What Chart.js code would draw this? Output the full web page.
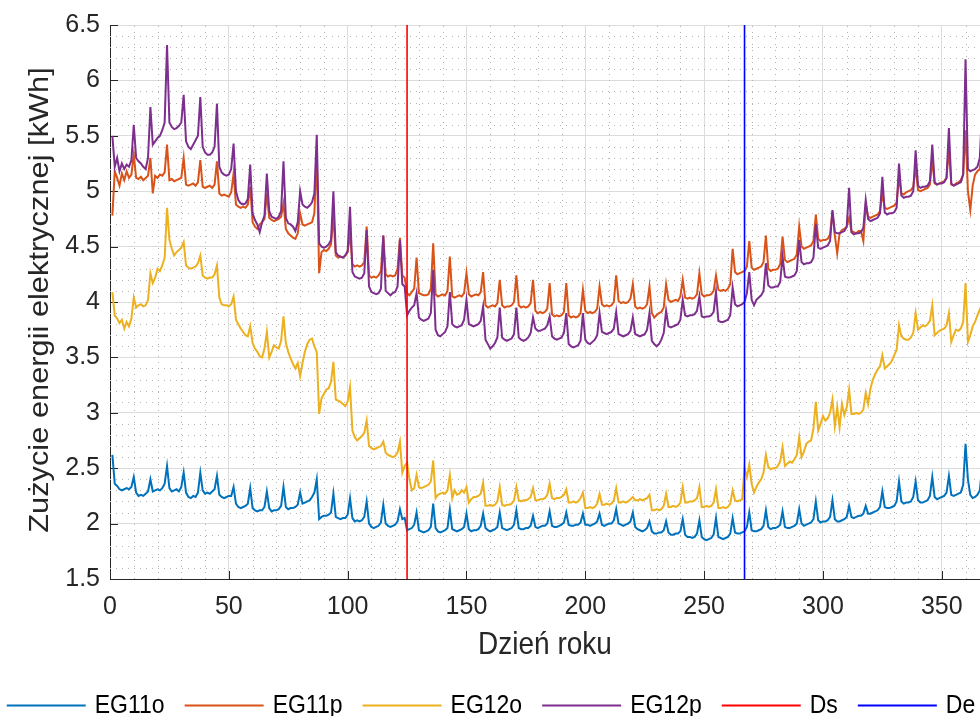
<!DOCTYPE html>
<html><head><meta charset="utf-8">
<script src="https://cdn.jsdelivr.net/npm/chart.js@4.4.1/dist/chart.umd.min.js"></script>
<style>
html,body{margin:0;padding:0;background:#fff;overflow:hidden;width:980px;height:716px}
#wrap{position:absolute;left:0;top:0;width:1000px;height:716px}
</style>
</head><body><div id="wrap"><canvas id="c" width="1000" height="716"></canvas></div>
<script>
const xTickValues = [0, 50, 100, 150, 200, 250, 300, 350];
const yTickValues = [1.5, 2, 2.5, 3, 3.5, 4, 4.5, 5, 5.5, 6, 6.5];
const seriesNames = ['EG11o', 'EG11p', 'EG12o', 'EG12p'];
const markerNames = ['Ds', 'De'];
const dsDay = 125;
const deDay = 267;
const xTitle = 'Dzień roku';
const yTitle = 'Zużycie energii elektrycznej [kWh]';

const eg11o = [2.62,2.36,2.34,
2.31,2.30,2.31,2.32,2.31,2.33,2.42,
2.28,2.25,2.26,2.25,2.27,2.29,2.40,
2.29,2.30,2.31,2.30,2.32,2.36,2.52,
2.32,2.29,2.30,2.31,2.29,2.33,2.46,
2.28,2.24,2.23,2.25,2.24,2.28,2.46,
2.30,2.27,2.28,2.27,2.29,2.31,2.43,
2.26,2.24,2.23,2.24,2.25,2.25,2.33,
2.18,2.15,2.14,2.15,2.16,2.18,2.32,
2.14,2.12,2.11,2.12,2.12,2.15,2.29,
2.14,2.11,2.12,2.12,2.13,2.16,2.33,
2.15,2.13,2.14,2.14,2.15,2.17,2.28,
2.18,2.19,2.20,2.21,2.24,2.28,2.40,
2.04,2.06,2.07,2.07,2.08,2.10,2.27,
2.06,2.05,2.04,2.05,2.05,2.08,2.23,
2.05,2.02,2.03,2.02,2.03,2.06,2.20,
2.00,1.97,1.96,1.97,1.98,2.01,2.17,
2.00,1.98,1.97,1.98,1.99,2.02,2.13,
2.04,2.05,1.94,1.95,1.96,1.99,2.10,
1.94,1.93,1.92,1.93,1.94,1.97,2.18,
1.96,1.93,1.92,1.93,1.94,1.96,2.13,
1.95,1.94,1.93,1.94,1.95,1.97,2.09,
1.95,1.93,1.94,1.94,1.95,1.98,2.09,
1.96,1.94,1.93,1.94,1.95,1.97,2.10,
1.96,1.95,1.94,1.95,1.96,1.99,2.12,
1.96,1.95,1.95,1.96,1.96,1.98,2.07,
1.97,1.96,1.97,1.98,1.98,2.00,2.11,
1.98,1.97,1.97,1.98,1.99,2.01,2.10,
1.99,1.98,1.98,1.99,1.99,2.01,2.09,
1.99,1.99,1.98,1.99,2.00,2.02,2.09,
1.99,1.98,1.99,2.00,2.00,2.03,2.13,
2.00,1.99,1.98,1.99,2.00,2.02,2.10,
1.97,1.95,1.94,1.93,1.94,1.96,2.02,
1.93,1.91,1.91,1.92,1.92,1.94,2.02,
1.92,1.90,1.90,1.91,1.91,1.93,2.04,
1.90,1.88,1.88,1.87,1.88,1.91,2.03,
1.88,1.86,1.85,1.86,1.87,1.90,2.05,
1.88,1.87,1.86,1.87,1.88,1.91,2.05,
1.92,1.91,1.91,1.92,1.93,1.97,2.10,
1.94,1.93,1.93,1.94,1.95,1.98,2.12,
1.97,1.95,1.96,1.96,1.97,1.99,2.11,
1.97,1.96,1.96,1.97,1.98,2.00,2.13,
2.00,1.98,1.99,2.00,2.01,2.04,2.20,
2.03,2.01,2.02,2.02,2.03,2.06,2.21,
2.04,2.02,2.02,2.03,2.04,2.06,2.16,
2.06,2.05,2.06,2.07,2.07,2.09,2.16,
2.09,2.09,2.10,2.11,2.12,2.15,2.29,
2.15,2.14,2.14,2.15,2.16,2.20,2.38,
2.20,2.18,2.19,2.19,2.20,2.24,2.38,
2.21,2.19,2.19,2.20,2.21,2.25,2.42,
2.24,2.22,2.23,2.24,2.25,2.28,2.43,
2.26,2.25,2.26,2.27,2.28,2.35,2.72,
2.40,2.26,2.23,2.24,2.26,2.30,2.51];

const eg11p = [4.78,5.18,5.12,
5.05,5.16,5.10,5.18,5.12,5.15,5.33,
5.12,5.11,5.13,5.10,5.12,5.14,5.30,
4.98,5.14,5.12,5.15,5.14,5.17,5.42,
5.10,5.11,5.09,5.10,5.11,5.12,5.30,
5.06,5.05,5.06,5.07,5.05,5.08,5.28,
5.04,5.03,5.04,5.05,5.03,5.06,5.27,
4.98,4.96,4.97,4.96,4.95,4.99,5.16,
4.88,4.86,4.85,4.86,4.85,4.88,5.04,
4.72,4.68,4.66,4.70,4.72,4.75,4.98,
4.76,4.74,4.73,4.74,4.75,4.77,4.89,
4.66,4.62,4.60,4.58,4.57,4.62,4.80,
4.70,4.69,4.70,4.71,4.72,4.80,5.34,
4.26,4.45,4.47,4.46,4.48,4.52,4.78,
4.42,4.40,4.41,4.40,4.42,4.45,4.62,
4.34,4.32,4.33,4.32,4.33,4.36,4.68,
4.24,4.22,4.23,4.22,4.24,4.28,4.60,
4.25,4.23,4.24,4.23,4.24,4.30,4.58,
4.24,4.22,4.08,4.06,4.09,4.12,4.40,
4.08,4.07,4.06,4.06,4.07,4.12,4.53,
4.07,4.05,4.06,4.07,4.06,4.10,4.41,
4.05,4.04,4.05,4.06,4.05,4.08,4.26,
4.07,4.05,4.06,4.07,4.06,4.09,4.27,
3.97,3.95,3.96,3.97,3.96,3.99,4.20,
3.97,3.95,3.96,3.96,3.97,4.00,4.24,
3.97,3.95,3.96,3.95,3.96,3.99,4.20,
3.92,3.90,3.91,3.90,3.91,3.94,4.17,
3.89,3.87,3.88,3.87,3.88,3.91,4.17,
3.88,3.86,3.87,3.86,3.87,3.90,4.11,
3.92,3.90,3.91,3.90,3.91,3.94,4.14,
3.98,3.96,3.97,3.96,3.97,4.00,4.24,
4.01,3.99,4.00,3.99,4.00,4.03,4.16,
3.96,3.94,3.95,3.94,3.95,3.98,4.14,
3.90,3.86,3.88,3.90,3.91,3.95,4.16,
4.02,4.00,4.01,4.02,4.01,4.05,4.20,
4.04,4.03,4.04,4.03,4.04,4.07,4.26,
4.07,4.05,4.06,4.06,4.07,4.10,4.24,
4.11,4.10,4.11,4.10,4.12,4.16,4.48,
4.27,4.25,4.26,4.27,4.28,4.32,4.55,
4.31,4.29,4.30,4.31,4.32,4.36,4.60,
4.30,4.28,4.29,4.29,4.30,4.34,4.59,
4.38,4.36,4.37,4.38,4.39,4.43,4.68,
4.50,4.48,4.49,4.50,4.51,4.55,4.79,
4.57,4.55,4.56,4.56,4.57,4.61,4.82,
4.60,4.44,4.62,4.65,4.66,4.68,4.76,
4.64,4.63,4.62,4.64,4.64,4.55,4.88,
4.77,4.76,4.77,4.78,4.79,4.82,4.98,
4.85,4.84,4.85,4.86,4.87,4.90,5.12,
4.98,4.97,4.99,5.00,5.01,5.04,5.22,
5.01,5.00,5.01,5.02,5.03,5.06,5.28,
5.07,5.06,5.07,5.08,5.09,5.12,5.38,
5.06,5.05,5.07,5.08,5.10,5.15,5.55,
5.00,4.83,5.05,5.15,5.18,5.20,5.40];

const eg12o = [4.09,3.88,3.85,
3.81,3.84,3.76,3.82,3.78,3.85,4.04,
3.95,3.97,3.98,3.96,3.97,4.02,4.26,
4.17,4.22,4.30,4.28,4.33,4.40,4.85,
4.56,4.48,4.42,4.45,4.47,4.49,4.54,
4.33,4.31,4.30,4.31,4.32,4.35,4.42,
4.24,4.22,4.21,4.22,4.22,4.25,4.33,
4.04,3.98,3.97,3.97,3.96,3.98,4.05,
3.84,3.80,3.76,3.73,3.70,3.69,3.78,
3.63,3.58,3.55,3.51,3.50,3.58,3.73,
3.50,3.55,3.61,3.59,3.58,3.65,3.87,
3.63,3.55,3.49,3.44,3.40,3.45,3.33,
3.45,3.55,3.62,3.66,3.67,3.60,3.55,
2.99,3.13,3.17,3.21,3.22,3.28,3.46,
3.12,3.11,3.10,3.08,3.06,3.10,3.23,
2.84,2.78,2.75,2.77,2.79,2.82,2.93,
2.70,2.68,2.67,2.68,2.69,2.70,2.74,
2.64,2.62,2.61,2.60,2.61,2.64,2.74,
2.46,2.52,2.55,2.40,2.30,2.32,2.44,
2.33,2.32,2.33,2.34,2.35,2.38,2.57,
2.23,2.26,2.27,2.28,2.27,2.30,2.44,
2.23,2.30,2.26,2.27,2.30,2.28,2.33,
2.19,2.22,2.24,2.24,2.25,2.27,2.37,
2.16,2.16,2.17,2.16,2.17,2.20,2.33,
2.17,2.16,2.17,2.17,2.18,2.21,2.33,
2.21,2.20,2.21,2.21,2.22,2.24,2.32,
2.21,2.21,2.22,2.22,2.23,2.26,2.36,
2.23,2.22,2.23,2.23,2.24,2.26,2.31,
2.19,2.19,2.20,2.19,2.20,2.23,2.28,
2.14,2.14,2.15,2.14,2.15,2.18,2.27,
2.17,2.17,2.18,2.17,2.18,2.21,2.32,
2.19,2.19,2.20,2.19,2.20,2.22,2.24,
2.21,2.21,2.22,2.21,2.22,2.23,2.26,
2.12,2.12,2.13,2.12,2.13,2.16,2.27,
2.15,2.15,2.16,2.15,2.16,2.19,2.33,
2.19,2.19,2.20,2.20,2.21,2.23,2.33,
2.15,2.15,2.16,2.15,2.16,2.19,2.31,
2.14,2.14,2.15,2.14,2.15,2.18,2.30,
2.21,2.20,2.21,2.22,2.50,2.42,2.53,
2.36,2.28,2.33,2.37,2.40,2.46,2.62,
2.51,2.49,2.50,2.50,2.52,2.56,2.69,
2.52,2.54,2.56,2.55,2.58,2.62,2.78,
2.60,2.65,2.72,2.74,2.75,2.86,3.10,
2.84,2.90,2.97,2.93,2.95,3.00,3.12,
2.88,3.05,2.87,3.08,2.98,3.05,3.21,
2.99,2.99,3.00,2.99,3.00,3.03,3.18,
3.08,3.22,3.30,3.35,3.39,3.42,3.52,
3.40,3.42,3.44,3.47,3.52,3.57,3.79,
3.69,3.67,3.66,3.66,3.68,3.72,3.90,
3.75,3.77,3.79,3.78,3.80,3.83,3.97,
3.70,3.72,3.74,3.75,3.76,3.79,3.90,
3.64,3.70,3.75,3.74,3.76,3.82,4.17,
3.64,3.70,3.78,3.82,3.88,3.93,3.98];

const eg12p = [5.50,5.22,5.30,
5.18,5.25,5.20,5.24,5.22,5.28,5.60,
5.30,5.27,5.25,5.22,5.20,5.30,5.76,
5.42,5.45,5.48,5.50,5.55,5.62,6.32,
5.62,5.58,5.56,5.57,5.59,5.62,5.87,
5.45,5.40,5.38,5.42,5.46,5.50,5.85,
5.40,5.35,5.33,5.33,5.35,5.40,5.79,
5.22,5.17,5.15,5.14,5.15,5.20,5.43,
5.00,4.92,4.89,4.88,4.89,4.93,5.24,
4.80,4.74,4.70,4.63,4.72,4.78,5.16,
4.82,4.77,4.76,4.75,4.77,4.82,5.27,
4.76,4.71,4.70,4.68,4.64,4.72,5.00,
4.88,4.86,4.85,4.87,4.90,4.98,5.51,
4.53,4.50,4.49,4.50,4.52,4.56,5.00,
4.45,4.42,4.41,4.40,4.42,4.46,4.86,
4.27,4.23,4.22,4.21,4.22,4.26,4.65,
4.14,4.09,4.08,4.07,4.08,4.12,4.60,
4.10,4.08,4.06,4.08,4.09,4.14,4.56,
4.16,4.14,3.88,3.92,3.95,3.97,4.08,
3.86,3.84,3.83,3.84,3.85,3.90,4.29,
3.75,3.70,3.69,3.71,3.73,3.78,4.09,
3.80,3.78,3.77,3.78,3.79,3.84,4.02,
3.80,3.79,3.78,3.79,3.80,3.83,3.96,
3.66,3.62,3.58,3.60,3.63,3.68,3.95,
3.68,3.66,3.65,3.66,3.67,3.71,3.95,
3.68,3.66,3.65,3.66,3.68,3.72,3.86,
3.76,3.74,3.74,3.75,3.76,3.79,3.87,
3.69,3.67,3.66,3.67,3.68,3.72,3.90,
3.62,3.60,3.59,3.60,3.61,3.65,3.90,
3.66,3.63,3.62,3.64,3.66,3.70,3.90,
3.73,3.72,3.71,3.72,3.73,3.76,3.91,
3.71,3.70,3.69,3.70,3.71,3.74,3.86,
3.71,3.70,3.69,3.70,3.71,3.75,3.90,
3.65,3.62,3.60,3.62,3.66,3.72,3.92,
3.78,3.77,3.78,3.79,3.80,3.84,4.02,
3.88,3.87,3.88,3.88,3.89,3.92,4.05,
3.87,3.86,3.87,3.87,3.88,3.91,4.09,
3.83,3.82,3.82,3.83,3.84,3.88,4.13,
3.98,3.96,3.97,3.98,4.00,4.08,4.27,
4.02,3.97,4.02,4.04,4.06,4.10,4.35,
4.15,4.13,4.13,4.14,4.14,4.18,4.41,
4.23,4.22,4.22,4.23,4.24,4.28,4.56,
4.36,4.34,4.35,4.35,4.36,4.40,4.70,
4.49,4.48,4.49,4.50,4.51,4.55,4.83,
4.63,4.62,4.62,4.63,4.64,4.68,5.03,
4.63,4.61,4.62,4.62,4.63,4.67,4.92,
4.75,4.73,4.74,4.75,4.76,4.80,5.13,
4.81,4.79,4.80,4.80,4.81,4.85,5.25,
4.96,4.94,4.95,4.95,4.96,5.00,5.37,
5.05,5.03,5.04,5.04,5.05,5.09,5.42,
5.08,5.06,5.07,5.07,5.08,5.12,5.57,
5.07,5.05,5.06,5.07,5.08,5.15,6.19,
5.20,5.18,5.19,5.20,5.22,5.30,5.75];

const days = eg11o.map((_, i) => i + 1);
const seriesValues = [eg11o, eg11p, eg12o, eg12p];
const seriesColors = ['#0072BD', '#D95319', '#EDB120', '#7E2F8E'];
const markerColors = ['#FF0000', '#0000FF'];
const yMin = 1.5, yMax = 6.5;

const FONT = "'Liberation Sans', Arial, Helvetica, sans-serif";
const TXT = '#262626';
const STRETCH = 1.1;

const datasets = seriesValues.map((vals, s) => ({
  label: seriesNames[s],
  data: days.map((d, i) => ({ x: d, y: vals[i] })),
  borderColor: seriesColors[s],
  backgroundColor: seriesColors[s],
  borderWidth: 2,
  pointRadius: 0,
  tension: 0,
  order: 10 - s
}));
[dsDay, deDay].forEach((d, m) => datasets.push({
  label: markerNames[m],
  data: [{ x: d, y: yMin }, { x: d, y: yMax }],
  borderColor: markerColors[m],
  backgroundColor: markerColors[m],
  borderWidth: 1.6,
  pointRadius: 0,
  order: 2 - m
}));

const decorPlugin = {
  id: 'decor',
  beforeDatasetsDraw(chart) {
    const { ctx, chartArea: a, scales: { x, y } } = chart;
    ctx.save();
    ctx.strokeStyle = '#b4b4b4';
    ctx.lineWidth = 1;
    ctx.setLineDash([1, 5]);
    for (let v = 10; v < 400; v += 10) {
      if (v % 50 === 0) continue;
      const px = Math.round(x.getPixelForValue(v)) + 0.5;
      if (px > a.right) break;
      ctx.beginPath(); ctx.moveTo(px, a.bottom); ctx.lineTo(px, a.top); ctx.stroke();
    }
    for (let i = 16; i < 65; i++) {
      if (i % 5 === 0) continue;
      const py = Math.round(y.getPixelForValue(i / 10)) + 0.5;
      ctx.beginPath(); ctx.moveTo(a.left, py); ctx.lineTo(a.right, py); ctx.stroke();
    }
    ctx.setLineDash([]);
    ctx.strokeStyle = TXT;
    xTickValues.forEach(v => {
      const px = Math.round(x.getPixelForValue(v)) + 0.5;
      ctx.beginPath(); ctx.moveTo(px, a.bottom); ctx.lineTo(px, a.bottom - 8); ctx.stroke();
    });
    yTickValues.forEach(v => {
      const py = Math.round(y.getPixelForValue(v)) + 0.5;
      ctx.beginPath(); ctx.moveTo(a.left, py); ctx.lineTo(a.left + 8, py); ctx.stroke();
    });
    ctx.restore();
  },
  afterDraw(chart) {
    const { ctx, chartArea: a } = chart;
    ctx.save();
    ctx.fillStyle = TXT;
    ctx.font = `28px ${FONT}`;
    ctx.textAlign = 'center';
    ctx.textBaseline = 'middle';
    ctx.translate((a.left + 980) / 2, 646);
    ctx.scale(1, STRETCH);
    ctx.fillText(xTitle, 0, 0);
    ctx.restore();

    ctx.save();
    ctx.fillStyle = TXT;
    ctx.font = `28px ${FONT}`;
    ctx.textAlign = 'center';
    ctx.textBaseline = 'middle';
    ctx.translate(40, (a.top + a.bottom) / 2 - 2);
    ctx.rotate(-Math.PI / 2);
    ctx.scale(STRETCH, 1);
    ctx.fillText(yTitle, 0, 0);
    ctx.restore();

    // legend
    ctx.save();
    ctx.font = `23px ${FONT}`;
    ctx.textBaseline = 'middle';
    ctx.textAlign = 'left';
    const items = chart.data.datasets.map(d => ({ label: d.label, color: d.borderColor }));
    const lineLen = 79, gapText = 9, gapItem = 20;
    let total = 0;
    items.forEach(it => { it.w = ctx.measureText(it.label).width; total += lineLen + gapText + it.w; });
    total += gapItem * (items.length - 1);
    let cx = 491 - total / 2;
    const ly = 705;
    items.forEach(it => {
      ctx.strokeStyle = it.color;
      ctx.lineWidth = 2;
      ctx.beginPath(); ctx.moveTo(cx, ly + 0.5); ctx.lineTo(cx + lineLen, ly + 0.5); ctx.stroke();
      cx += lineLen + gapText;
      ctx.save();
      ctx.translate(cx, ly + 1);
      ctx.scale(1, STRETCH);
      ctx.fillStyle = '#000';
      ctx.fillText(it.label, 0, 0);
      ctx.restore();
      cx += it.w + gapItem;
    });
    ctx.restore();
  }
};

new Chart(document.getElementById('c'), {
  type: 'line',
  data: { datasets },
  plugins: [decorPlugin],
  options: {
    responsive: false,
    animation: false,
    devicePixelRatio: 1,
    layout: { padding: { top: 25, left: 0, right: 0, bottom: 0 } },
    plugins: { legend: { display: false }, tooltip: { enabled: false } },
    elements: { point: { radius: 0 }, line: { tension: 0 } },
    scales: {
      x: {
        type: 'linear', min: 0, max: 374.5,
        afterBuildTicks: s => { s.ticks = xTickValues.map(v => ({ value: v })); },
        afterFit: s => { s.height = 137; },
        grid: { color: '#dcdcdc', lineWidth: 1, drawTicks: false },
        border: { color: TXT, width: 1 },
        ticks: { padding: 13, color: TXT, font: { family: FONT, size: 25 }, maxRotation: 0, autoSkip: false }
      },
      y: {
        type: 'linear', min: yMin, max: yMax,
        afterBuildTicks: s => { s.ticks = yTickValues.map(v => ({ value: v })); },
        afterFit: s => { s.width = 110; },
        grid: { color: '#dcdcdc', lineWidth: 1, drawTicks: false },
        border: { color: TXT, width: 1 },
        ticks: { padding: 10, color: TXT, font: { family: FONT, size: 25 }, autoSkip: false,
                 callback: v => String(v) }
      }
    }
  }
});
</script>
</body></html>
